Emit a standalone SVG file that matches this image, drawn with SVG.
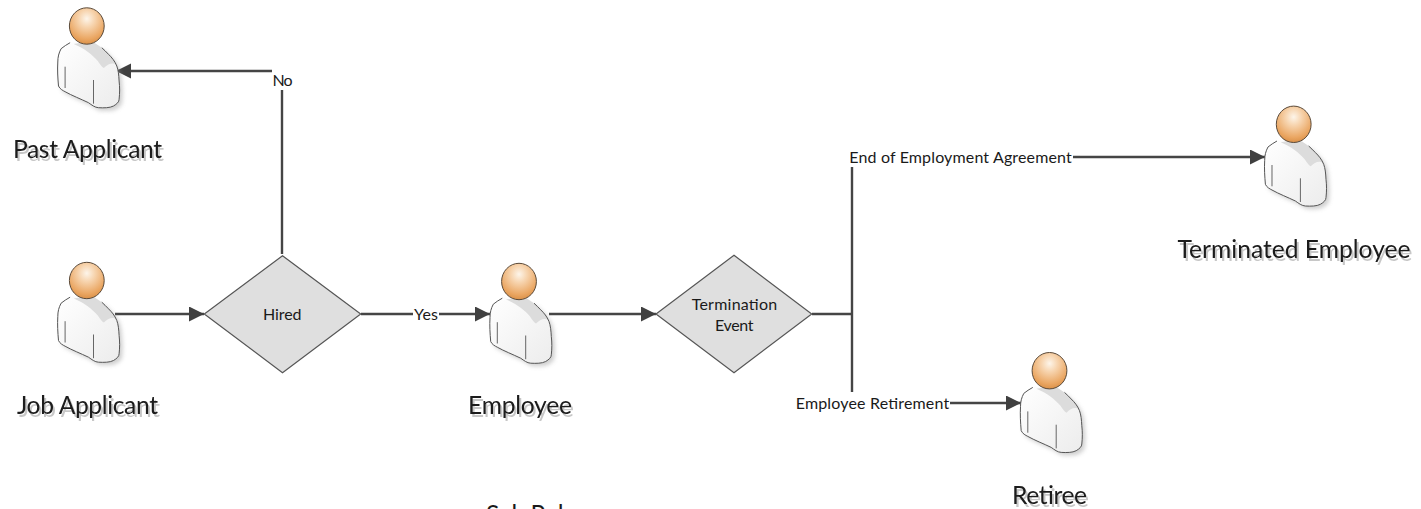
<svg xmlns="http://www.w3.org/2000/svg" xmlns:xlink="http://www.w3.org/1999/xlink" width="1421" height="509" viewBox="0 0 1421 509">
<style>
text{font-family:"Lato","Carlito","Open Sans",sans-serif;fill:#1a1a1a}
.big{font-size:24.6px}
.small{font-size:16px}
.conn{fill:none;stroke:#454545;stroke-width:2.4}
.dia{fill:#dfdfdf;stroke:#555;stroke-width:1.2}
.ghost{filter:url(#textGhost)}
</style>
<defs>
<marker id="arrow" markerUnits="userSpaceOnUse" markerWidth="16" markerHeight="16" refX="15" refY="7.5" orient="auto"><path d="M0 0L15 7.5L0 15Z" fill="#404040"/></marker>
<radialGradient id="head" cx="0.5" cy="0.3" r="0.75"><stop offset="0" stop-color="#fdf5ea"/><stop offset="0.3" stop-color="#f7d5b0"/><stop offset="0.75" stop-color="#eaa662"/><stop offset="1" stop-color="#d5893f"/></radialGradient>
<linearGradient id="body" x1="0" y1="0" x2="1" y2="1"><stop offset="0" stop-color="#ffffff"/><stop offset="1" stop-color="#ececec"/></linearGradient>
<filter id="soft" x="-30%" y="-30%" width="160%" height="160%"><feGaussianBlur stdDeviation="2"/></filter>
<filter id="textGhost" x="-5%" y="-20%" width="110%" height="150%"><feOffset dx="1.5" dy="3" in="SourceAlpha"/><feGaussianBlur stdDeviation="0.6"/><feComponentTransfer><feFuncA type="linear" slope="0.22"/></feComponentTransfer><feMerge><feMergeNode/><feMergeNode in="SourceGraphic"/></feMerge></filter>
<g id="person">
<path d="M-16.7 16.7C-20 18.5-23 20.5-25.7 22.7C-28 27-29 31-29 36C-29.5 44-29 52-28.3 60C-27 63-24 64.5-21.7 65.7C-15 69.5-6 73 1.7 76.7C5 79 8 81.5 11.7 81.7C17 82 23 82 26.7 80C30 78 32.3 76 32.3 73.3C33 67 33 61 32.3 55C32 49 31.5 44 30 40C28 35 25 31.5 21.7 28.3C19.5 26 17 23.5 15 21.7Z" fill="#888" opacity=".4" transform="translate(3 3)" filter="url(#soft)"/>
<path d="M-16.7 16.7C-20 18.5-23 20.5-25.7 22.7C-28 27-29 31-29 36C-29.5 44-29 52-28.3 60C-27 63-24 64.5-21.7 65.7C-15 69.5-6 73 1.7 76.7C5 79 8 81.5 11.7 81.7C17 82 23 82 26.7 80C30 78 32.3 76 32.3 73.3C33 67 33 61 32.3 55C32 49 31.5 44 30 40C28 35 25 31.5 21.7 28.3C19.5 26 17 23.5 15 21.7Z" fill="url(#body)"/>
<path d="M-13 18C-3 22 6 29 11 35C13 38 15 41 17 42C21 38 25 36 30 38.5C28 34 25 31 21.7 28.3C19.5 26 17 23.5 15 21.7L5 15Z" fill="#dcdcdc"/>
<path d="M-16.7 16.7C-20 18.5-23 20.5-25.7 22.7C-28 27-29 31-29 36C-29.5 44-29 52-28.3 60C-27 63-24 64.5-21.7 65.7C-15 69.5-6 73 1.7 76.7C5 79 8 81.5 11.7 81.7C17 82 23 82 26.7 80C30 78 32.3 76 32.3 73.3C33 67 33 61 32.3 55C32 49 31.5 44 30 40C28 35 25 31.5 21.7 28.3C19.5 26 17 23.5 15 21.7" fill="none" stroke="#555" stroke-width="1"/>
<path d="M-21.7 40.7V62M6.7 54V77.7" fill="none" stroke="#666" stroke-width="1"/>
<ellipse cx="0" cy="0" rx="17.4" ry="18.2" fill="url(#head)" stroke="#5a4a3a" stroke-width="1"/>
</g>
</defs>
<rect width="1421" height="509" fill="#fff"/>
<g id="connectors">
<path class="conn" d="M115 314H204" marker-end="url(#arrow)"/>
<path class="conn" d="M282 254V90"/>
<path class="conn" d="M272 71H116" marker-end="url(#arrow)"/>
<path class="conn" d="M361 314H413"/>
<path class="conn" d="M439 314H490" marker-end="url(#arrow)"/>
<path class="conn" d="M549 314H656" marker-end="url(#arrow)"/>
<path class="conn" d="M812 314H852"/>
<path class="conn" d="M852 167V392"/>
<path class="conn" d="M1073 157H1265" marker-end="url(#arrow)"/>
<path class="conn" d="M950 403H1021" marker-end="url(#arrow)"/>
<text class="small" x="272.5" y="85.7" textLength="20">No</text>
<text class="small" x="414" y="319.7" textLength="24">Yes</text>
<text class="small" x="849.3" y="162.7" textLength="222.5">End of Employment Agreement</text>
<text class="small" x="795.7" y="408.7" textLength="153.5">Employee Retirement</text>
</g>
<g id="past-applicant"><use href="#person" xlink:href="#person" x="86.8" y="26"/><text class="big ghost" x="13" y="158" textLength="149">Past Applicant</text></g>
<g id="job-applicant"><use href="#person" xlink:href="#person" x="86.8" y="280.5"/><text class="big ghost" x="17" y="414" textLength="141">Job Applicant</text></g>
<g id="employee"><use href="#person" xlink:href="#person" x="519" y="281.5"/><text class="big ghost" x="468" y="414" textLength="104">Employee</text></g>
<g id="terminated-employee"><use href="#person" xlink:href="#person" x="1293.7" y="124.3"/><text class="big ghost" x="1177.5" y="258" textLength="233">Terminated Employee</text></g>
<g id="retiree"><use href="#person" xlink:href="#person" x="1049.5" y="370.7"/><text class="big ghost" x="1012" y="504" textLength="75">Retiree</text></g>
<g id="hired"><path class="dia" d="M282.5 255.7L360.7 314L282.5 372.7L204.3 314Z"/><text class="small" x="263" y="319.7" textLength="38.5">Hired</text></g>
<g id="termination-event"><path class="dia" d="M734 255.2L811.7 314L734 372.7L656 314Z"/><text class="small" x="691.7" y="309.7" textLength="85.5">Termination</text><text class="small" x="715" y="330.7" textLength="38.5">Event</text></g>
<g id="sub-roles"><text class="big" x="486" y="523" textLength="100">Sub Roles</text></g>
</svg>
